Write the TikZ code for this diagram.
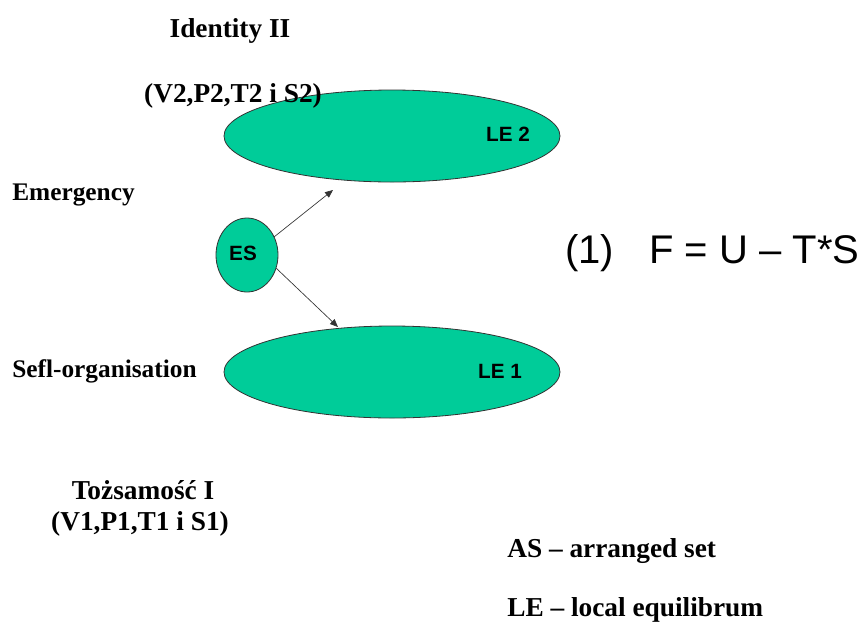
\documentclass[tikz,border=0pt]{standalone}
\usepackage{fontspec}
\setmainfont{Liberation Serif}
\newfontfamily\arialf{Liberation Sans}
\usetikzlibrary{arrows.meta}
\definecolor{lgreen}{HTML}{00CC99}
\begin{document}
\begin{tikzpicture}[x=0.75pt,y=-0.75pt,
  blob/.style={draw=black!80,line width=0.6pt,fill=lgreen},
  lbl/.style={font=\bfseries\fontsize{20.5}{22}\selectfont,inner sep=0pt},
  slbl/.style={font=\bfseries\fontsize{19}{21}\selectfont,inner sep=0pt},
  inlbl/.style={font=\arialf\bfseries\fontsize{15.5}{17}\selectfont,inner sep=0pt},
  conn/.style={-{Triangle[length=6pt,width=5pt]},line width=0.5pt,black!80}]
\useasboundingbox (0,0) rectangle (861,626);
\fill[blob] (392,136) ellipse [x radius=168,y radius=46];
\fill[blob] (392,372) ellipse [x radius=168,y radius=46];
\fill[blob] (247,255) ellipse [x radius=31,y radius=37];
\node[inlbl] (le2) at (508,134) {LE 2};
\node[inlbl] (le1) at (500,371) {LE 1};
\node[inlbl] (es) at (243,253) {ES};
\coordinate (a1s) at (274,237);
\coordinate (a1e) at (333,190);
\coordinate (a2s) at (276,268);
\coordinate (a2e) at (338,327);
\draw[conn] (a1s) -- (a1e);
\draw[conn] (a2s) -- (a2e);
\node[lbl] (id2) at (230,31) {Identity II};
\node[lbl] (v2) at (233,96) {(V2,P2,T2 i S2)};
\node[slbl,anchor=west] (em) at (12,195) {Emergency};
\node[slbl,anchor=west] (so) at (12,371) {Sefl-organisation};
\node[lbl] (t1) at (143,490) {Tożsamość I};
\node[lbl] (v1) at (140,524) {(V1,P1,T1 i S1)};
\node[lbl,anchor=west] (as) at (507,551) {AS – arranged set};
\node[lbl,anchor=west] (le) at (507,610) {LE – local equilibrum};
\node[font=\arialf\fontsize{30}{34}\selectfont,inner sep=0pt,anchor=west] (eq) at (565,253) {(1)\hspace{0.88em}F = U – T*S};
\end{tikzpicture}
\end{document}
